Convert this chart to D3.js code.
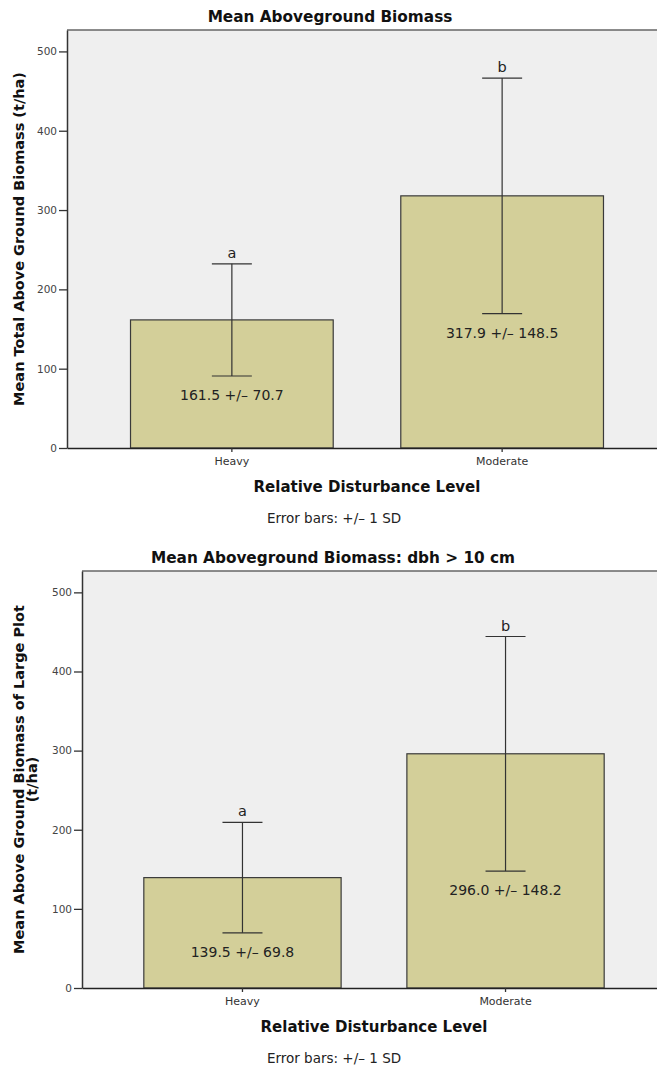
<!DOCTYPE html>
<html>
<head>
<meta charset="utf-8">
<script src="https://cdn.jsdelivr.net/npm/d3@7/dist/d3.min.js"></script>
<style>
  html, body { margin: 0; padding: 0; background: #ffffff; }
  svg { display: block; font-family: "DejaVu Sans", "Liberation Sans", sans-serif; }
</style>
</head>
<body>
<script>
// Disturbance levels shared by both panels
const categories = ["Heavy", "Moderate"];

// Total aboveground biomass (t/ha): means, standard deviations, significance letters
const totalMeans = [161.5, 317.9];
const totalSDs = [70.7, 148.5];
const totalLetters = ["a", "b"];

// Large-plot biomass, trees with dbh > 10 cm (t/ha)
const largeMeans = [139.5, 296.0];
const largeSDs = [69.8, 148.2];
const largeLetters = ["a", "b"];

// Value axis ticks
const yTicks = [0, 100, 200, 300, 400, 500];
const yMax = 527;

const W = 657, H = 1068;
const svg = d3.select("body").append("svg")
  .attr("width", W).attr("height", H);

function drawPanel(opt) {
  const { left, top, right, bottom, title, titleX, yTitle, means, sds, letters } = opt;

  const x = d3.scaleBand()
    .domain(categories)
    .range([left, right])
    .paddingInner(0.25)
    .paddingOuter(0.235);

  const y = d3.scaleLinear().domain([0, yMax]).range([bottom, top]);

  const g = svg.append("g");

  // plot background
  g.append("rect")
    .attr("x", left).attr("y", top)
    .attr("width", right - left).attr("height", bottom - top)
    .attr("fill", "#efefef");

  // top frame line
  g.append("line")
    .attr("x1", left).attr("x2", right)
    .attr("y1", top).attr("y2", top)
    .attr("stroke", "#666").attr("stroke-width", 1.5);

  // bars
  g.selectAll("rect.bar")
    .data(categories)
    .join("rect")
    .attr("class", "bar")
    .attr("x", d => x(d))
    .attr("y", (d, i) => y(means[i]))
    .attr("width", x.bandwidth())
    .attr("height", (d, i) => y(0) - y(means[i]))
    .attr("fill", "#d3cf99")
    .attr("stroke", "#3a3a3a")
    .attr("stroke-width", 1.2);

  const cx = d => x(d) + x.bandwidth() / 2;
  const capHalf = 20;

  // error bars (+/- 1 SD)
  const eb = g.selectAll("g.err")
    .data(categories)
    .join("g")
    .attr("class", "err")
    .attr("stroke", "#333")
    .attr("stroke-width", 1.2);

  eb.append("line")
    .attr("x1", d => cx(d)).attr("x2", d => cx(d))
    .attr("y1", (d, i) => y(means[i] - sds[i]))
    .attr("y2", (d, i) => y(means[i] + sds[i]));
  eb.append("line")
    .attr("x1", d => cx(d) - capHalf).attr("x2", d => cx(d) + capHalf)
    .attr("y1", (d, i) => y(means[i] + sds[i]))
    .attr("y2", (d, i) => y(means[i] + sds[i]));
  eb.append("line")
    .attr("x1", d => cx(d) - capHalf).attr("x2", d => cx(d) + capHalf)
    .attr("y1", (d, i) => y(means[i] - sds[i]))
    .attr("y2", (d, i) => y(means[i] - sds[i]));

  // significance letters above the upper caps
  g.selectAll("text.letter")
    .data(categories)
    .join("text")
    .attr("class", "letter")
    .attr("x", d => cx(d))
    .attr("y", (d, i) => y(means[i] + sds[i]) - 6)
    .attr("text-anchor", "middle")
    .attr("font-size", 14.5)
    .attr("fill", "#222")
    .text((d, i) => letters[i]);

  // mean +/- SD labels below the lower caps
  g.selectAll("text.val")
    .data(categories)
    .join("text")
    .attr("class", "val")
    .attr("x", d => cx(d))
    .attr("y", (d, i) => y(means[i] - sds[i]) + 24)
    .attr("text-anchor", "middle")
    .attr("font-size", 14)
    .attr("fill", "#222")
    .text((d, i) => `${means[i].toFixed(1)} +/\u2013 ${sds[i].toFixed(1)}`);

  // y axis
  const ya = g.append("g")
    .attr("transform", `translate(${left},0)`)
    .call(d3.axisLeft(y).tickValues(yTicks).tickSize(8).tickPadding(2).tickSizeOuter(0));
  ya.select(".domain").attr("stroke", "#333").attr("stroke-width", 1.5);
  ya.selectAll(".tick line").attr("stroke", "#333").attr("stroke-width", 1.3);
  ya.selectAll(".tick text")
    .attr("font-family", "DejaVu Sans, sans-serif")
    .attr("font-size", 10.5).attr("fill", "#444");

  // x axis
  const xa = g.append("g")
    .attr("transform", `translate(0,${bottom})`)
    .call(d3.axisBottom(x).tickSize(4).tickPadding(5).tickSizeOuter(0));
  xa.select(".domain").attr("stroke", "#222").attr("stroke-width", 1.6);
  xa.selectAll(".tick line").attr("stroke", "#333").attr("stroke-width", 1.3);
  xa.selectAll(".tick text")
    .attr("font-family", "DejaVu Sans, sans-serif")
    .attr("font-size", 11).attr("fill", "#333");

  // chart title
  g.append("text")
    .attr("x", titleX).attr("y", top - 8)
    .attr("text-anchor", "middle")
    .attr("font-size", 15.3).attr("font-weight", "bold").attr("fill", "#111")
    .text(title);

  // x axis title
  g.append("text")
    .attr("x", (left + right) / 2).attr("y", bottom + 44)
    .attr("text-anchor", "middle")
    .attr("font-size", 15).attr("font-weight", "bold").attr("fill", "#111")
    .text("Relative Disturbance Level");

  // error bar note
  g.append("text")
    .attr("x", 334).attr("y", bottom + 75)
    .attr("text-anchor", "middle")
    .attr("font-size", 13.5).attr("fill", "#222")
    .text("Error bars: +/\u2013 1 SD");

  // y axis title (one or more lines)
  const midY = (top + bottom) / 2;
  yTitle.forEach((line, k) => {
    g.append("text")
      .attr("transform", `translate(${24 + k * 13},${midY}) rotate(-90)`)
      .attr("text-anchor", "middle")
      .attr("font-size", 14.5).attr("font-weight", "bold").attr("fill", "#111")
      .text(line);
  });
}

drawPanel({
  left: 67, top: 30, right: 667, bottom: 448,
  title: "Mean Aboveground Biomass", titleX: 330,
  yTitle: ["Mean Total Above Ground Biomass (t/ha)"],
  means: totalMeans, sds: totalSDs, letters: totalLetters
});

drawPanel({
  left: 82, top: 571, right: 666, bottom: 988,
  title: "Mean Aboveground Biomass: dbh > 10 cm", titleX: 333,
  yTitle: ["Mean Above Ground Biomass of Large Plot", "(t/ha)"],
  means: largeMeans, sds: largeSDs, letters: largeLetters
});
</script>
</body>
</html>
